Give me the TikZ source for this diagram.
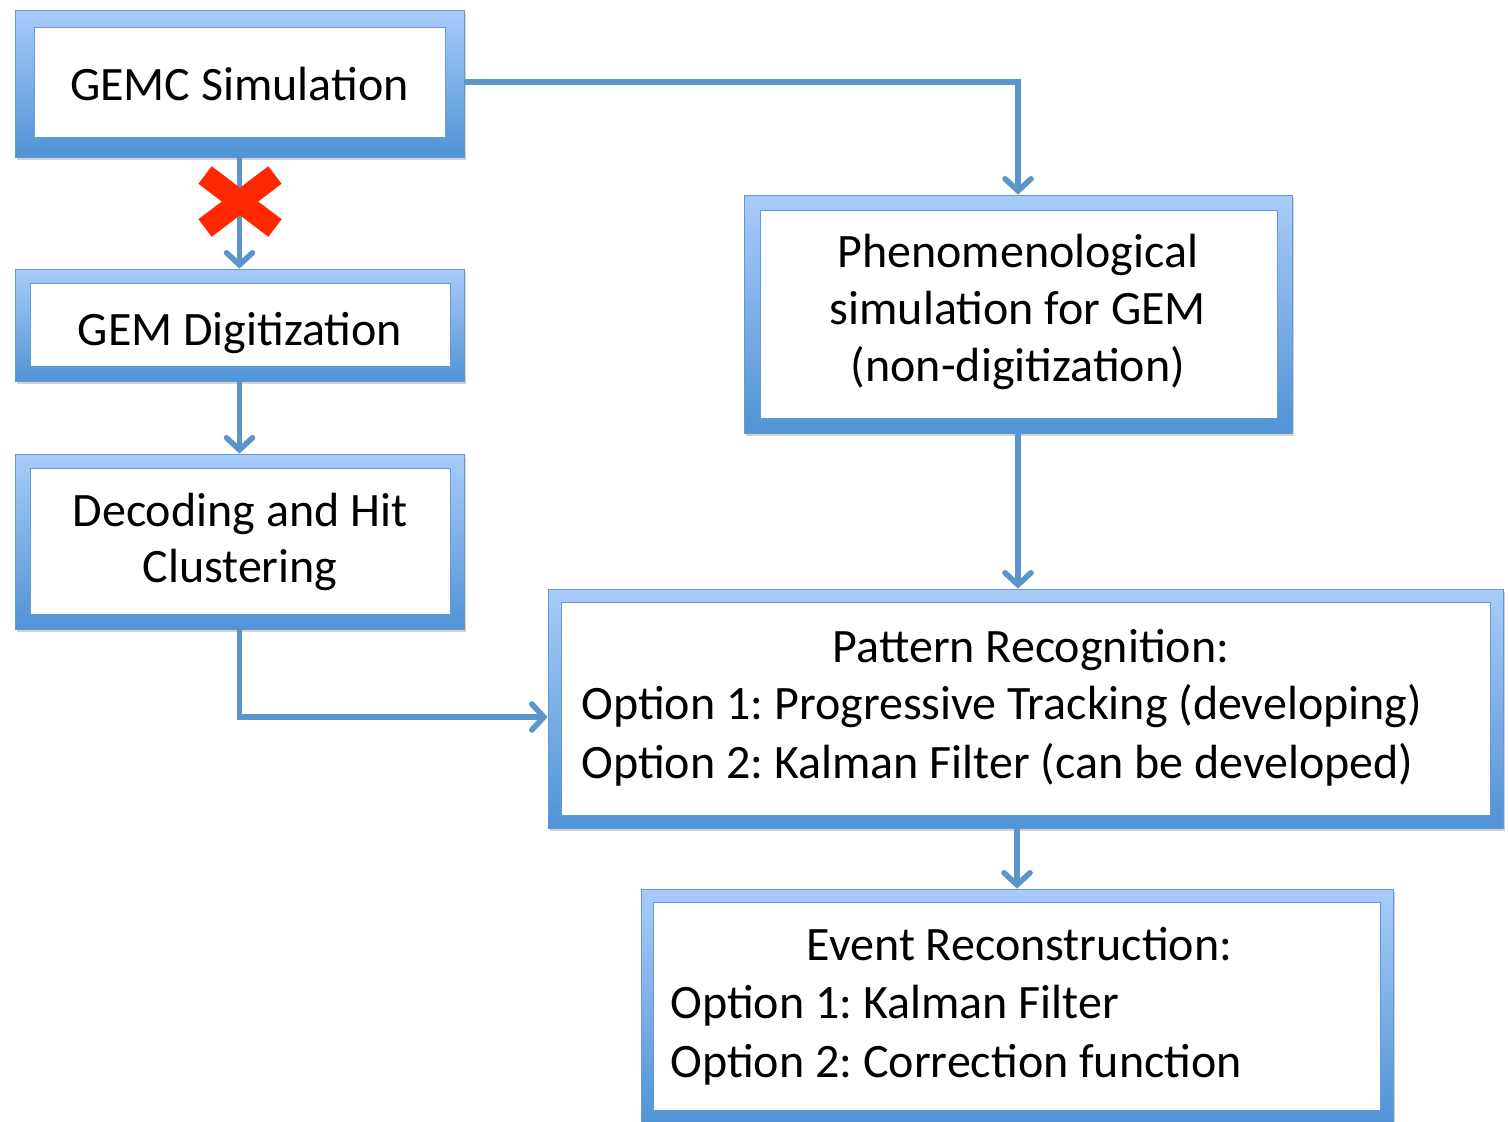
\documentclass[tikz,border=0pt]{standalone}
\usepackage{fontspec}
\setmainfont{Carlito}
\frenchspacing
\usetikzlibrary{arrows.meta, positioning, shadows}
\definecolor{frametop}{RGB}{168, 204, 250}
\definecolor{framebot}{RGB}{80, 147, 214}
\definecolor{frameedge}{RGB}{104, 152, 206}
\definecolor{linkblue}{RGB}{92, 149, 204}
\definecolor{crossred}{RGB}{255, 40, 0}

\tikzset{
  frame/.style={rectangle, inner sep=0pt, top color=frametop, bottom color=framebot,
    draw=frameedge, line width=0.4pt,
    drop shadow={shadow xshift=1pt, shadow yshift=-1.5pt, opacity=0.3, fill=black!60}},
  pane/.style={rectangle, inner sep=0pt, fill=white, draw=frameedge, line width=0.4pt},
  txt/.style={font=\fontsize{24}{29}\selectfont, inner sep=0pt, anchor=base},
  txtleft/.style={txt, anchor=base west},
  flow/.style={draw=linkblue, line width=2.8pt, line join=miter,
    -{Straight Barb[length=6pt, width=13pt, line cap=round]}}
}

\begin{document}
\begin{tikzpicture}[x=0.5pt, y=-0.5pt]
  \useasboundingbox[fill=white] (0,0) rectangle (1508,1121);

  % left column
  \node[frame, minimum width=224.5pt, minimum height=73.5pt] (gemc) at (239.5,83.5) {};
  \node[pane, minimum width=205.5pt, minimum height=55pt] (gemc-in) at (239.5,82) {};
  \node[txt] (gemc-txt) at (239.5,100) {GEMC Simulation};

  \node[frame, minimum width=224.5pt, minimum height=56pt] (dig) at (239.5,325) {};
  \node[pane, minimum width=210pt, minimum height=41.5pt] (dig-in) at (240,324.5) {};
  \node[txt] (dig-txt) at (240,345) {GEM Digitization};

  \node[frame, minimum width=224.5pt, minimum height=87.5pt] (dec) at (239.5,541.5) {};
  \node[pane, minimum width=210pt, minimum height=73pt] (dec-in) at (240,541) {};
  \node[txt] (dec-a) at (240,526) {Decoding and Hit};
  \node[txt] (dec-b) at (240,582) {Clustering};

  % right column
  \node[frame, minimum width=274pt, minimum height=119pt] (phen) at (1018,314) {};
  \node[pane, minimum width=258.5pt, minimum height=104pt] (phen-in) at (1018.5,314) {};
  \node[txt] (phen-a) at (1018,267) {Phenomenological};
  \node[txt] (phen-b) at (1018,324) {simulation for GEM};
  \node[txt] (phen-c) at (1018,381) {(non-digitization)};

  \node[frame, minimum width=477.5pt, minimum height=119.5pt] (patt) at (1025.5,708.5) {};
  \node[pane, minimum width=464.5pt, minimum height=106.5pt] (patt-in) at (1025.5,708.5) {};
  \node[txt] (patt-a) at (1031,662) {Pattern Recognition:};
  \node[txtleft] (patt-b) at (581,719) {Option 1: Progressive Tracking (developing)};
  \node[txtleft] (patt-c) at (581,778) {Option 2: Kalman Filter (can be developed)};

  \node[frame, minimum width=376pt, minimum height=117.5pt] (evt) at (1017,1006.5) {};
  \node[pane, minimum width=363.5pt, minimum height=104pt] (evt-in) at (1016.5,1006) {};
  \node[txt] (evt-a) at (1019.5,960) {Event Reconstruction:};
  \node[txtleft] (evt-b) at (670,1018) {Option 1: Kalman Filter};
  \node[txtleft] (evt-c) at (670,1077) {Option 2: Correction function};

  % connectors
  \draw[flow] ([yshift=0.75pt]gemc.east) -| (phen.north);
  \draw[flow] (gemc.south) -- (dig.north);
  \draw[flow] (dig.south) -- (dec.north);
  \draw[flow] (dec.south) |- ([yshift=-4.25pt]patt.west);
  \draw[flow] (phen.south) -- (phen.south |- patt.north);
  \draw[flow] (evt.north |- patt.south) -- (evt.north);

  % the GEMC -> digitization path is crossed out
  \draw[crossred, line width=11pt] (205,175) -- (275,228);
  \draw[crossred, line width=11pt] (275,175) -- (205,228);
\end{tikzpicture}
\end{document}
